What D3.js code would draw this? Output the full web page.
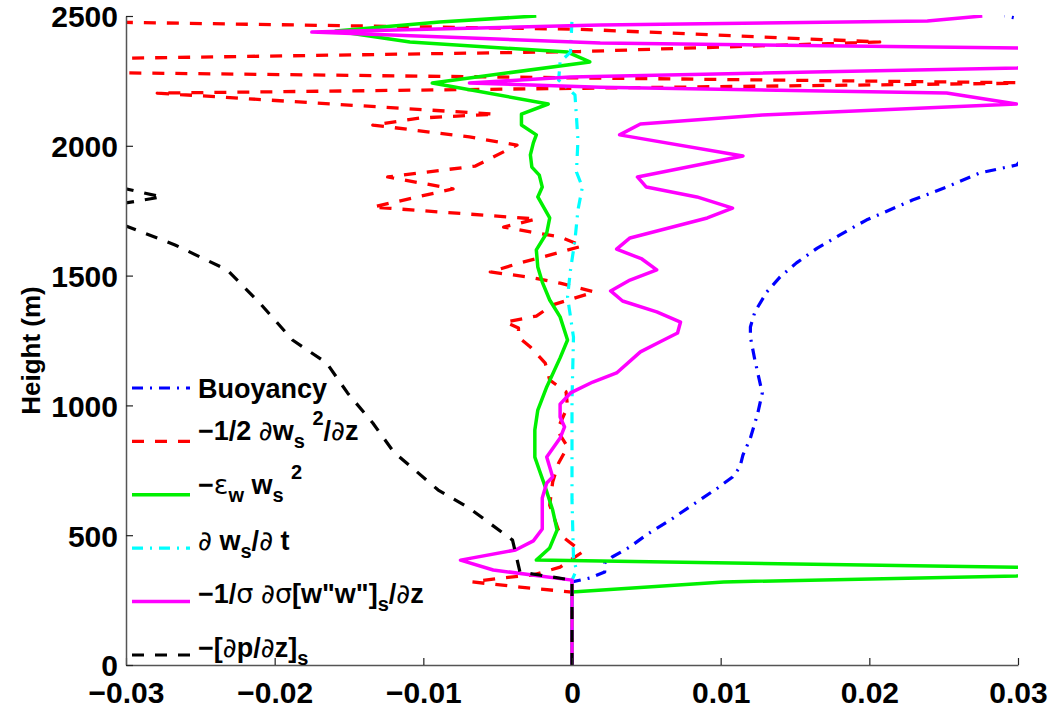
<!DOCTYPE html>
<html>
<head>
<meta charset="utf-8">
<script src="https://cdn.jsdelivr.net/npm/d3@7"></script>
<style>
  body { margin: 0; background: #fff; }
  svg { display: block; }
  text { font-family: "Liberation Sans", Arial, sans-serif; font-weight: bold; fill: #000; }
</style>
</head>
<body>
<div id="chart"></div>
<script>
// Dimensions
const width = 1055;
const height = 706;
const margin = {left: 126, right: 37, top: 16, bottom: 41};

// Axis ticks
const X_TICKS = [-0.03, -0.02, -0.01, 0, 0.01, 0.02, 0.03];
const X_TICK_LABELS = ["\u22120.03", "\u22120.02", "\u22120.01", "0", "0.01", "0.02", "0.03"];
const Y_TICKS = [0, 500, 1000, 1500, 2000, 2500];

// Profiles as [value, height (m)]
const buoyancy = [
  [0, 0], [0, 320], [0.0012, 335], [0.0022, 358], [0.0022, 393], [0.0027, 416], [0.0039, 455],
  [0.0050, 501], [0.0068, 566], [0.0084, 628], [0.0098, 682], [0.0108, 724], [0.0113, 763],
  [0.0115, 809], [0.0120, 874], [0.0125, 971], [0.0128, 1048], [0.0126, 1098], [0.0123, 1175],
  [0.0120, 1263], [0.0120, 1302], [0.0123, 1360], [0.0131, 1437], [0.0140, 1495], [0.0151, 1549],
  [0.0165, 1606], [0.0180, 1656], [0.0198, 1714], [0.0229, 1791], [0.0252, 1841], [0.0274, 1895],
  [0.0299, 1926], [0.0342, 2176], [0.0342, 2446], [0.0291, 2500]
];

const advection = [
  [0, 0], [0, 281], [-0.0035, 300], [-0.0067, 320], [-0.0048, 335], [-0.0026, 347], [-0.0008, 377],
  [0.0007, 435], [-0.0008, 501], [-0.0015, 616], [-0.0013, 705], [-0.0009, 778], [-0.0003, 840],
  [-0.0010, 905], [-0.0003, 994], [-0.0004, 1052], [-0.0015, 1098], [-0.0018, 1163], [-0.0028, 1225],
  [-0.0036, 1263], [-0.0036, 1298], [-0.0045, 1321], [-0.0024, 1344], [-0.0013, 1387], [0.0015, 1437],
  [-0.0008, 1471], [-0.0030, 1495], [-0.0055, 1514], [-0.0035, 1549], [-0.0017, 1576], [0.0007, 1614],
  [-0.0008, 1649], [-0.0028, 1668], [-0.0046, 1687], [-0.0024, 1718], [-0.0134, 1764], [-0.0080, 1834],
  [-0.0124, 1880], [-0.0065, 1922], [-0.0037, 2003], [-0.0069, 2034], [-0.0134, 2080], [-0.0102, 2107],
  [-0.0052, 2122], [-0.0279, 2203], [0.0315, 2242], [-0.0319, 2282], [-0.0319, 2336], [0.0005, 2363],
  [0.0207, 2400], [0.0005, 2449], [-0.0319, 2477], [-0.0319, 2500]
];

const entrainment = [
  [0, 0], [0, 281], [0.0102, 320], [0.0299, 343], [0.0328, 362], [0.0299, 377], [-0.0024, 404],
  [-0.0015, 451], [-0.0010, 520], [-0.0013, 597], [-0.0018, 686], [-0.0022, 751], [-0.0025, 801],
  [-0.0025, 905], [-0.0023, 982], [-0.0017, 1071], [-0.0008, 1183], [-0.0003, 1252], [-0.0008, 1341],
  [-0.0015, 1406], [-0.0020, 1475], [-0.0023, 1533], [-0.0024, 1599], [-0.0017, 1664], [-0.0015, 1722],
  [-0.0023, 1803], [-0.0020, 1841], [-0.0022, 1887], [-0.0027, 1918], [-0.0028, 1965], [-0.0026, 2011],
  [-0.0024, 2042], [-0.0034, 2080], [-0.0034, 2122], [-0.0016, 2161], [-0.0094, 2242], [0.0012, 2323],
  [-0.0003, 2361], [-0.0109, 2400], [-0.0159, 2442], [-0.0089, 2477], [-0.0024, 2500]
];

const tendency = [
  [0, 0], [0, 327], [0.0003, 366], [0.0001, 412], [0, 636], [0, 1021], [0.0001, 1263], [-0.0003, 1418],
  [-0.0001, 1522], [0.0002, 1637], [0.0004, 1753], [0.0007, 1841], [0.0003, 1899], [0.0004, 2022],
  [0.0003, 2111], [0.0002, 2196], [-0.0009, 2253], [-0.0008, 2323], [-0.0001, 2361], [0, 2485]
];

const fluxDivergence = [
  [0, 0], [0, 327], [-0.0053, 366], [-0.0075, 404], [-0.0038, 443], [-0.0026, 478], [-0.0020, 524],
  [-0.0020, 643], [-0.0017, 701], [-0.0013, 724], [-0.0017, 801], [-0.0008, 874], [-0.0005, 917],
  [-0.0008, 955], [-0.0008, 1005], [-0.0001, 1048], [0.0014, 1090], [0.0030, 1125], [0.0046, 1206],
  [0.0059, 1244], [0.0071, 1279], [0.0073, 1321], [0.0057, 1360], [0.0034, 1402], [0.0026, 1441],
  [0.0039, 1483], [0.0057, 1522], [0.0047, 1564], [0.0030, 1602], [0.0039, 1645], [0.0091, 1722],
  [0.0108, 1760], [0.0084, 1803], [0.0050, 1841], [0.0044, 1880], [0.0115, 1961], [0.0032, 2042],
  [0.0046, 2084], [0.0128, 2119], [0.0299, 2161], [0.0252, 2203], [0.0019, 2226], [-0.0069, 2242],
  [-0.0001, 2265], [0.0300, 2300], [0.0328, 2338], [0.0300, 2377], [0.0019, 2396], [-0.0175, 2438],
  [0.0019, 2465], [0.0239, 2481], [0.0276, 2500]
];

const pressure = [
  [0, 0], [0, 327], [-0.0035, 358], [-0.0040, 481], [-0.0069, 604], [-0.0090, 674], [-0.0120, 821],
  [-0.0134, 932], [-0.0151, 1048], [-0.0165, 1163], [-0.0188, 1252], [-0.0210, 1394], [-0.0232, 1522],
  [-0.0267, 1618], [-0.0300, 1691], [-0.0308, 1722], [-0.0308, 1772], [-0.0276, 1803], [-0.0303, 1838],
  [-0.0320, 1860]
];

// Series styles, in drawing order
const seriesData = [buoyancy, advection, entrainment, tendency, fluxDivergence, pressure];
const seriesColours = ["#0000ff", "#ff0000", "#00f000", "#00ffff", "#ff00ff", "#000000"];
const seriesDash = ["11,7,2,7", "12,11", null, "11,7,2,7", null, "12,11"];
const seriesWidth = [3.2, 3.3, 3.5, 3.2, 3.5, 3.2];

// Legend labels, split into [text, style] pieces (style: sub, sup, sym)
const legendLabels = [
  [["Buoyancy"]],
  [["\u22121/2 "], ["\u2202", "sym"], ["w"], ["s", "sub"], [" "], ["2", "sup"], ["/"], ["\u2202", "sym"], ["z"]],
  [["\u2212"], ["\u03b5", "sym"], ["w", "sub"], [" w"], ["s", "sub"], [" "], ["2", "sup"]],
  [["\u2202", "sym"], [" w"], ["s", "sub"], ["/"], ["\u2202", "sym"], [" t"]],
  [["\u22121/"], ["\u03c3", "sym"], [" "], ["\u2202", "sym"], ["\u03c3", "sym"], ["[w\"w\"]"], ["s", "sub"], ["/"], ["\u2202", "sym"], ["z"]],
  [["\u2212["], ["\u2202", "sym"], ["p/"], ["\u2202", "sym"], ["z]"], ["s", "sub"]]
];

// Scales
const x = d3.scaleLinear().domain([-0.03, 0.03]).range([margin.left, width - margin.right]);
const y = d3.scaleLinear().domain([0, 2500]).range([height - margin.bottom, margin.top]);

const svg = d3.select("#chart").append("svg")
    .attr("width", width)
    .attr("height", height);

svg.append("defs").append("clipPath")
    .attr("id", "plot-clip")
  .append("rect")
    .attr("x", margin.left)
    .attr("y", margin.top - 1)
    .attr("width", width - margin.left - margin.right)
    .attr("height", height - margin.top - margin.bottom + 1);

// Profiles
const line = d3.line()
    .x(d => x(d[0]))
    .y(d => y(d[1]));

svg.append("g")
    .attr("clip-path", "url(#plot-clip)")
  .selectAll("path")
  .data(seriesData)
  .join("path")
    .attr("d", line)
    .attr("fill", "none")
    .attr("stroke", (d, i) => seriesColours[i])
    .attr("stroke-width", (d, i) => seriesWidth[i])
    .attr("stroke-dasharray", (d, i) => seriesDash[i])
    .attr("stroke-linejoin", "round");

// Axes (inward ticks, no box)
const xAxis = d3.axisBottom(x)
    .tickValues(X_TICKS)
    .tickFormat((d, i) => X_TICK_LABELS[i])
    .tickSizeInner(-7)
    .tickSizeOuter(0)
    .tickPadding(17);

const yAxis = d3.axisLeft(y)
    .tickValues(Y_TICKS)
    .tickFormat(d3.format("d"))
    .tickSizeInner(-7)
    .tickSizeOuter(0)
    .tickPadding(8);

const gx = svg.append("g")
    .attr("transform", `translate(0,${height - margin.bottom})`)
    .call(xAxis);
const gy = svg.append("g")
    .attr("transform", `translate(${margin.left},0)`)
    .call(yAxis);

[gx, gy].forEach(g => {
    g.select(".domain").attr("stroke", "#555").attr("stroke-width", 1.5);
    g.selectAll(".tick line").attr("stroke", "#222").attr("stroke-width", 1.2);
    g.selectAll(".tick text")
        .style("font-family", '"Liberation Sans", Arial, sans-serif')
        .style("font-weight", "bold")
        .style("font-size", "30px")
        .attr("fill", "#000");
});
gy.selectAll(".tick text").attr("dy", "0.36em");

// Y label
svg.append("text")
    .attr("transform", `translate(40,${(margin.top + height - margin.bottom) / 2 + 10}) rotate(-90)`)
    .attr("text-anchor", "middle")
    .style("font-size", "26px")
    .text("Height (m)");

// Legend
const legendTop = 388;
const legendStep = 53.4;
const legendItems = svg.append("g")
  .selectAll("g")
  .data(legendLabels)
  .join("g")
    .attr("transform", (d, i) => `translate(0,${legendTop + i * legendStep})`);

legendItems.append("line")
    .attr("x1", 132)
    .attr("x2", 190)
    .attr("stroke", (d, i) => seriesColours[i])
    .attr("stroke-width", (d, i) => seriesWidth[i])
    .attr("stroke-dasharray", (d, i) => seriesDash[i]);

legendItems.append("text")
    .attr("x", 198)
    .attr("y", d => {
        const hasSup = d.some(p => p[1] === "sup");
        const hasSub = d.some(p => p[1] === "sub");
        return hasSup ? -1 : (hasSub ? 1.5 : 10);
    })
    .style("font-size", "27px")
    .each(function(parts) {
        const t = d3.select(this);
        let shift = 0;
        parts.forEach(([txt, kind]) => {
            const target = kind === "sub" ? 8 : (kind === "sup" ? -15 : 0);
            const ts = t.append("tspan")
                .attr("dy", target - shift)
                .text(txt);
            shift = target;
            if (kind === "sub" || kind === "sup") ts.style("font-size", "20px");
            if (kind === "sym") ts.style("font-weight", "normal").style("font-family", '"DejaVu Sans", sans-serif');
        });
    });
</script>
</body>
</html>
